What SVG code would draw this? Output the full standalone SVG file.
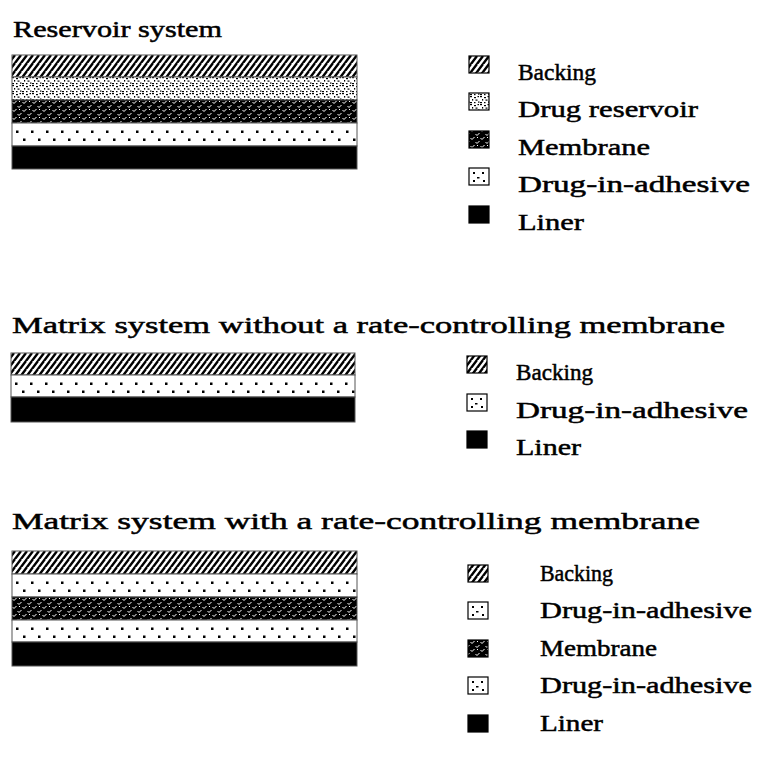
<svg xmlns="http://www.w3.org/2000/svg" width="758" height="763" viewBox="0 0 758 763">
<style>
  text { font-family: "Liberation Serif", "Times New Roman", serif; font-size: 24px; fill: #000; stroke: #000; stroke-width: 0.5; }
  .layer { stroke: #555; stroke-width: 1; }
  .icon { stroke: #000; stroke-width: 1.2; }
  .liner { fill: #000; }
</style>
<defs>
  <pattern id="pBack" patternUnits="userSpaceOnUse" width="6" height="8">
    <rect width="6" height="8" fill="#fff"/>
    <path d="M-3,8 L3,0 M3,8 L9,0 M-3,16 L9,0" stroke="#000" stroke-width="2.4" fill="none"/>
  </pattern>
  <pattern id="pRes" patternUnits="userSpaceOnUse" width="10" height="8">
    <rect width="10" height="8" fill="#fff"/>
    <g fill="#000">
      <rect x="0" y="0" width="2" height="1.2"/>
      <rect x="4" y="1" width="2" height="1.2"/>
      <rect x="7.5" y="0" width="1.5" height="1.2"/>
      <rect x="2" y="3" width="1.2" height="1.6"/>
      <rect x="5.5" y="3.5" width="2" height="1.2"/>
      <rect x="0" y="6" width="2" height="1.2"/>
      <rect x="4" y="6" width="1.5" height="1.2"/>
      <rect x="8" y="5.5" width="1.5" height="1.2"/>
    </g>
  </pattern>
  <pattern id="pMem" patternUnits="userSpaceOnUse" width="10" height="8">
    <rect width="10" height="8" fill="#000"/>
    <g stroke="#fff" stroke-width="1" fill="none">
      <path d="M0.5,2 L2,3.5 L4.5,1"/>
      <path d="M5.5,6 L7,7.5 L9.5,5"/>
    </g>
    <g fill="#fff">
      <rect x="7" y="1" width="1" height="1"/>
    </g>
  </pattern>
  <pattern id="pAdh" patternUnits="userSpaceOnUse" width="15" height="23">
    <rect width="15" height="23" fill="#fff"/>
    <rect x="4" y="7.5" width="2.5" height="2.5" fill="#000"/>
    <rect x="11" y="15.5" width="2.5" height="2.5" fill="#000"/>
  </pattern>
  <pattern id="pAdhIcon" patternUnits="userSpaceOnUse" width="20" height="17">
    <rect width="20" height="17" fill="#fff"/>
    <rect x="4" y="4" width="2" height="2" fill="#000"/>
    <rect x="13" y="4" width="2" height="2" fill="#000"/>
    <rect x="8" y="9" width="2.5" height="1.5" fill="#000"/>
    <rect x="4" y="12" width="2" height="2" fill="#000"/>
    <rect x="14" y="12" width="2" height="2" fill="#000"/>
  </pattern>
</defs>

<!-- Section 1: Reservoir system -->
<g id="title-reservoir">
  <text x="13" y="37" textLength="209" lengthAdjust="spacingAndGlyphs">Reservoir system</text>
</g>
<g id="stack-reservoir">
  <g transform="translate(12,55)">
    <rect class="layer" x="0" y="0" width="345" height="22" fill="url(#pBack)"/>
  </g>
  <g transform="translate(12,77)">
    <rect class="layer" x="0" y="0" width="345" height="23" fill="url(#pRes)"/>
  </g>
  <g transform="translate(12,100)">
    <rect class="layer" x="0" y="0" width="345" height="23" fill="url(#pMem)"/>
  </g>
  <g transform="translate(12,123)">
    <rect class="layer" x="0" y="0" width="345" height="23" fill="url(#pAdh)"/>
  </g>
  <g transform="translate(12,146)">
    <rect class="layer liner" x="0" y="0" width="345" height="23"/>
  </g>
</g>
<g id="legend-reservoir">
  <g id="l1-backing"><rect class="icon" x="469" y="56" width="20" height="17" fill="url(#pBack)"/><text x="518" y="80" textLength="78" lengthAdjust="spacingAndGlyphs">Backing</text></g>
  <g id="l1-reservoir"><rect class="icon" x="469" y="93" width="20" height="17" fill="url(#pRes)"/><text x="518" y="117" textLength="180" lengthAdjust="spacingAndGlyphs">Drug reservoir</text></g>
  <g id="l1-membrane"><rect class="icon" x="469" y="131" width="20" height="17" fill="url(#pMem)"/><text x="518" y="155" textLength="132" lengthAdjust="spacingAndGlyphs">Membrane</text></g>
  <g id="l1-adhesive"><g transform="translate(469,168)"><rect class="icon" x="0" y="0" width="20" height="17" fill="url(#pAdhIcon)"/></g><text x="518" y="192" textLength="232" lengthAdjust="spacingAndGlyphs">Drug-in-adhesive</text></g>
  <g id="l1-liner"><rect class="icon liner" x="469" y="206" width="20" height="17"/><text x="518" y="230" textLength="66" lengthAdjust="spacingAndGlyphs">Liner</text></g>
</g>

<!-- Section 2: Matrix without membrane -->
<g id="title-matrix1">
  <text x="12" y="333" textLength="713" lengthAdjust="spacingAndGlyphs">Matrix system without a rate-controlling membrane</text>
</g>
<g id="stack-matrix1">
  <g transform="translate(11,353)">
    <rect class="layer" x="0" y="0" width="344" height="22" fill="url(#pBack)"/>
  </g>
  <g transform="translate(11,375)">
    <rect class="layer" x="0" y="0" width="344" height="22" fill="url(#pAdh)"/>
  </g>
  <g transform="translate(11,397)">
    <rect class="layer liner" x="0" y="0" width="344" height="25"/>
  </g>
</g>
<g id="legend-matrix1">
  <g id="l2-backing"><rect class="icon" x="467" y="356" width="20" height="17" fill="url(#pBack)"/><text x="516" y="380" textLength="77" lengthAdjust="spacingAndGlyphs">Backing</text></g>
  <g id="l2-adhesive"><g transform="translate(467,394)"><rect class="icon" x="0" y="0" width="20" height="17" fill="url(#pAdhIcon)"/></g><text x="516" y="418" textLength="232" lengthAdjust="spacingAndGlyphs">Drug-in-adhesive</text></g>
  <g id="l2-liner"><rect class="icon liner" x="467" y="431" width="20" height="17"/><text x="516" y="455" textLength="65" lengthAdjust="spacingAndGlyphs">Liner</text></g>
</g>

<!-- Section 3: Matrix with membrane -->
<g id="title-matrix2">
  <text x="12" y="529" textLength="688" lengthAdjust="spacingAndGlyphs">Matrix system with a rate-controlling membrane</text>
</g>
<g id="stack-matrix2">
  <g transform="translate(12,551)">
    <rect class="layer" x="0" y="0" width="345" height="23" fill="url(#pBack)"/>
  </g>
  <g transform="translate(12,574)">
    <rect class="layer" x="0" y="0" width="345" height="23" fill="url(#pAdh)"/>
  </g>
  <g transform="translate(12,597)">
    <rect class="layer" x="0" y="0" width="345" height="23" fill="url(#pMem)"/>
  </g>
  <g transform="translate(12,620)">
    <rect class="layer" x="0" y="0" width="345" height="22" fill="url(#pAdh)"/>
  </g>
  <g transform="translate(12,642)">
    <rect class="layer liner" x="0" y="0" width="345" height="24"/>
  </g>
</g>
<g id="legend-matrix2">
  <g id="l3-backing"><rect class="icon" x="468" y="565" width="20" height="17" fill="url(#pBack)"/><text x="540" y="581" textLength="73" lengthAdjust="spacingAndGlyphs">Backing</text></g>
  <g id="l3-adhesive1"><g transform="translate(468,602)"><rect class="icon" x="0" y="0" width="20" height="17" fill="url(#pAdhIcon)"/></g><text x="540" y="618" textLength="212" lengthAdjust="spacingAndGlyphs">Drug-in-adhesive</text></g>
  <g id="l3-membrane"><rect class="icon" x="468" y="640" width="20" height="17" fill="url(#pMem)"/><text x="540" y="656" textLength="117" lengthAdjust="spacingAndGlyphs">Membrane</text></g>
  <g id="l3-adhesive2"><g transform="translate(468,677)"><rect class="icon" x="0" y="0" width="20" height="17" fill="url(#pAdhIcon)"/></g><text x="540" y="693" textLength="212" lengthAdjust="spacingAndGlyphs">Drug-in-adhesive</text></g>
  <g id="l3-liner"><rect class="icon liner" x="468" y="715" width="20" height="17"/><text x="540" y="731" textLength="63" lengthAdjust="spacingAndGlyphs">Liner</text></g>
</g>
</svg>
